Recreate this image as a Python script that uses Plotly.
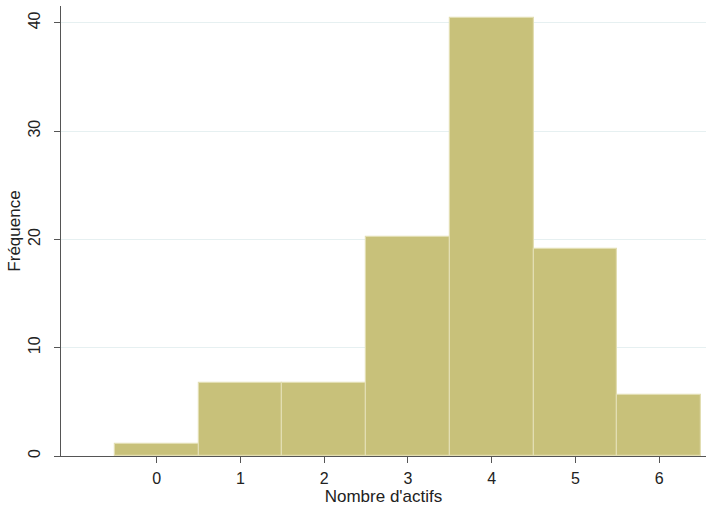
import plotly.graph_objects as go

# Data
categories = [0, 1, 2, 3, 4, 5, 6]
frequences = [1.12, 6.74, 6.74, 20.22, 40.45, 19.10, 5.62]
x_ticks = [0, 1, 2, 3, 4, 5, 6]
y_ticks = [0, 10, 20, 30, 40]

FONT = "Liberation Sans, Arial, sans-serif"
AXIS_COLOR = "#555555"

fig = go.Figure()
fig.add_trace(go.Bar(
    x=categories,
    y=frequences,
    width=1,
    marker=dict(color="#c8c17a", line=dict(color="#e2deb2", width=1.2)),
    hoverinfo="x+y",
))

fig.update_layout(
    width=708,
    height=508,
    margin=dict(l=61, r=2, t=6, b=52, autoexpand=False),
    paper_bgcolor="white",
    plot_bgcolor="white",
    showlegend=False,
    bargap=0,
    font=dict(family=FONT, size=16, color="#222222"),
)

fig.update_xaxes(
    automargin=False,
    range=[-1.143, 6.56],
    tickmode="array",
    tickvals=x_ticks,
    ticktext=[str(v) for v in x_ticks],
    ticks="outside",
    ticklen=6,
    tickcolor=AXIS_COLOR,
    showline=True,
    linecolor=AXIS_COLOR,
    linewidth=1,
    showgrid=False,
    zeroline=False,
    tickfont=dict(size=16),
    ticklabelstandoff=2,
    title=dict(text="Nombre d'actifs", font=dict(size=17), standoff=0),
)

fig.update_yaxes(
    automargin=False,
    range=[0, 41.55],
    tickmode="array",
    tickvals=y_ticks,
    ticktext=[str(v) for v in y_ticks],
    tickangle=-90,
    ticks="outside",
    ticklen=6,
    tickcolor=AXIS_COLOR,
    showline=True,
    linecolor=AXIS_COLOR,
    linewidth=1,
    showgrid=True,
    gridcolor="#e6f0f1",
    gridwidth=1,
    zeroline=False,
    tickfont=dict(size=16),
    ticklabelstandoff=8,
    title=dict(text="Fréquence", font=dict(size=17), standoff=0),
)

fig.write_html(
    "out.html",
    config={"displayModeBar": False},
    post_script="document.body.style.margin='0';document.body.style.overflow='hidden';",
)
